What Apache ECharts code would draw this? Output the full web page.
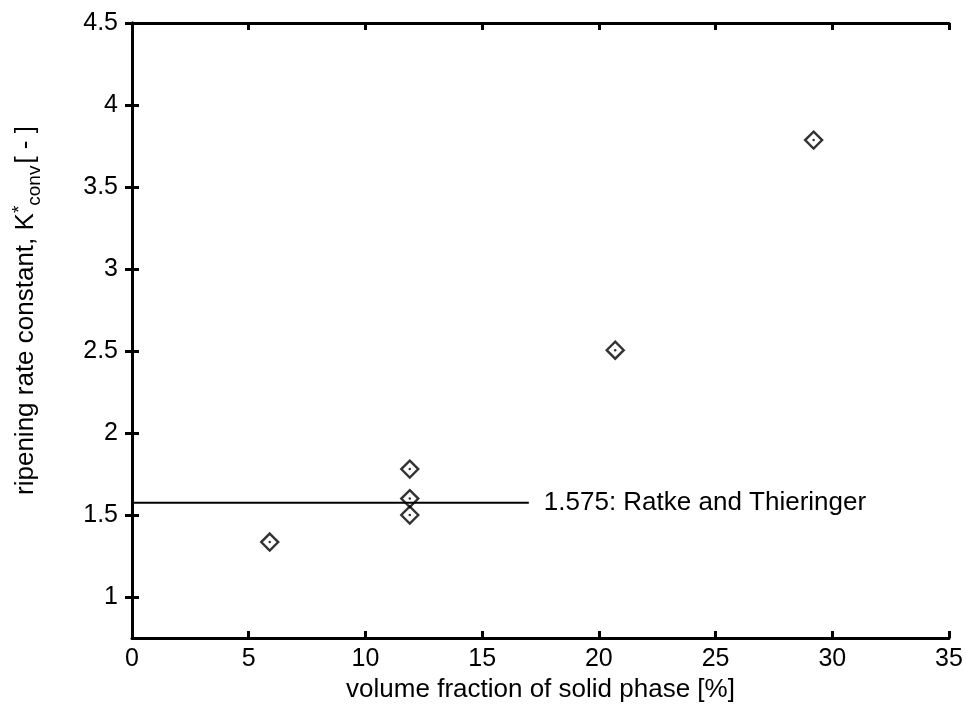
<!DOCTYPE html>
<html>
<head>
<meta charset="utf-8">
<script src="https://cdn.jsdelivr.net/npm/echarts@6/dist/echarts.min.js"></script>
<style>
html,body{margin:0;padding:0;background:#fff;}
#chart{width:966px;height:705px;}
</style>
</head>
<body>
<div id="chart"></div>
<script>
// Data
var volumeFraction = [5.9, 11.9, 11.9, 11.9, 20.7, 29.2];
var rateConstant   = [1.335, 1.78, 1.60, 1.50, 2.505, 3.786];
var refLineX = [0, 17];
var refValue = 1.575;
var refLabel = '1.575: Ratke and Thieringer';
var yTicks = [1, 1.5, 2, 2.5, 3, 3.5, 4, 4.5];
var xTicks = [0, 5, 10, 15, 20, 25, 30, 35];

var pts = volumeFraction.map(function (x, i) { return [x, rateConstant[i]]; });
var refPts = refLineX.map(function (x) { return [x, refValue]; });

var FONT = 'Liberation Sans, Arial, Helvetica, sans-serif';
var axisLine = { show: true, lineStyle: { color: '#000', width: 3 } };
var tick = { show: true, inside: true, length: 7, lineStyle: { color: '#000', width: 3 } };

var chart = echarts.init(document.getElementById('chart'), null, { renderer: 'canvas' });
chart.setOption({
  animation: false,
  backgroundColor: '#fff',
  grid: { left: 132, right: 17, top: 23, bottom: 67, containLabel: false, outerBoundsMode: 'none' },
  xAxis: [
    {
      type: 'value', position: 'bottom', min: 0, max: 35, interval: 5,
      axisLine: axisLine, axisTick: tick, splitLine: { show: false },
      axisLabel: { color: '#000', fontSize: 25, fontFamily: FONT, margin: 9 },
      name: 'volume fraction of solid phase [%]', nameLocation: 'middle', nameGap: 39,
      nameTextStyle: { color: '#000', fontSize: 26, fontFamily: FONT }
    },
    {
      type: 'value', position: 'top', min: 0, max: 35, interval: 5,
      axisLine: axisLine, axisTick: tick, splitLine: { show: false },
      axisLabel: { show: false }
    }
  ],
  yAxis: [
    {
      type: 'value', position: 'left', min: 0.75, max: 4.5,
      axisLine: axisLine,
      axisTick: Object.assign({}, tick, { customValues: yTicks }),
      splitLine: { show: false },
      axisLabel: { color: '#000', fontSize: 25, fontFamily: FONT, margin: 14, customValues: yTicks },
      name: '{a|ripening rate constant, K}{sup|*}{sub|conv}{a|[ - ]}',
      nameLocation: 'middle', nameGap: 88, nameRotate: 90,
      nameTextStyle: {
        color: '#000', fontFamily: FONT, padding: [0, 0, 0, 40],
        rich: {
          a: { fontSize: 26, fontFamily: FONT, color: '#000', lineHeight: 36, verticalAlign: 'middle' },
          sup: { fontSize: 19, fontFamily: FONT, color: '#000', lineHeight: 36, verticalAlign: 'top', padding: [2, 0, 0, 0] },
          sub: { fontSize: 19, fontFamily: FONT, color: '#000', lineHeight: 36, verticalAlign: 'bottom', padding: [0, 2, 0, 0] }
        }
      }
    },
    {
      type: 'value', position: 'right', min: 0.75, max: 4.5,
      axisLine: axisLine,
      axisTick: Object.assign({}, tick, { customValues: yTicks }),
      splitLine: { show: false },
      axisLabel: { show: false, customValues: yTicks }
    }
  ],
  series: [
    {
      type: 'line', xAxisIndex: 0, yAxisIndex: 0, data: refPts,
      symbol: 'none', lineStyle: { color: '#000', width: 2 },
      endLabel: { show: true, formatter: refLabel, color: '#000', fontSize: 26, fontFamily: FONT, distance: 15 },
      silent: true
    },
    {
      type: 'scatter', xAxisIndex: 0, yAxisIndex: 0, data: pts,
      symbol: 'diamond', symbolSize: 17,
      itemStyle: { color: 'rgba(0,0,0,0)', borderColor: '#000', borderWidth: 2.4 }
    },
    {
      type: 'scatter', xAxisIndex: 0, yAxisIndex: 0, data: pts,
      symbol: 'circle', symbolSize: 2.5,
      itemStyle: { color: '#000' }
    }
  ]
});
</script>
</body>
</html>
